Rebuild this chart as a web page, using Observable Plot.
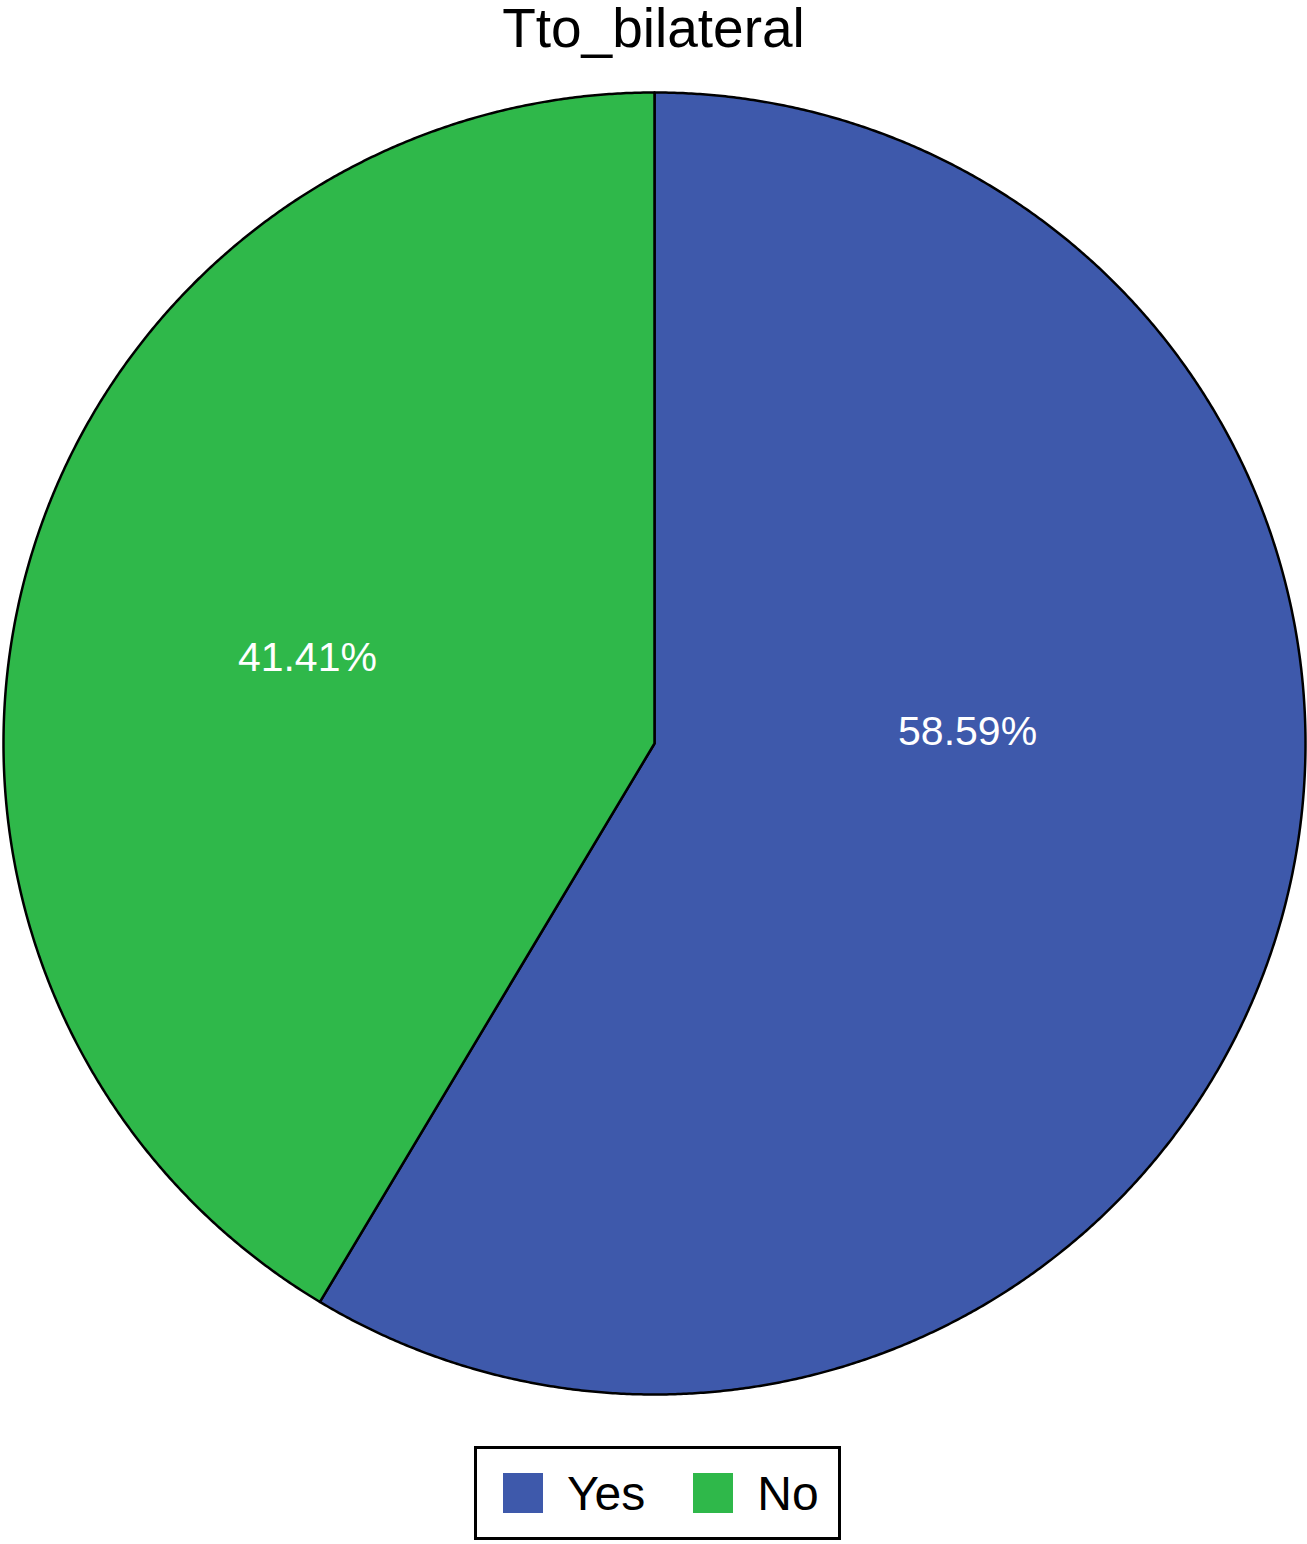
<!DOCTYPE html>
<html>
<head>
<meta charset="utf-8">
<script src="https://cdn.jsdelivr.net/npm/d3@7"></script>
<script src="https://cdn.jsdelivr.net/npm/@observablehq/plot@0.6"></script>
<style>
  html, body { margin: 0; padding: 0; background: #fff; }
  body { width: 1307px; height: 1544px; position: relative; overflow: hidden; font-family: "Liberation Sans", Arial, sans-serif; }
  #title { position: absolute; left: 0; top: 0; width: 1307px; text-align: center; font-size: 55px; line-height: 1.05; padding-top: 0; color: #000; }
  #chart { position: absolute; left: 0; top: 80px; }
  #legend { position: absolute; left: 474px; top: 1446px; width: 335px; height: 88px; border: 3px solid #000; display: flex; align-items: center; padding-left: 26px; box-sizing: content-box; }
  #legend > * { flex: none; white-space: nowrap; }
</style>
</head>
<body>
<div id="title">Tto_bilateral</div>
<div id="chart"></div>
<div id="legend"></div>
<script>
// ---- data ----
const categories = ["Yes", "No"];
const percents = [58.59, 41.41];
const colors = ["#3e59ab", "#2fb84a"];

// ---- layout ----
const W = 1307, H = 1340;
const cx = 654, cy = 663, R = 651;

const table = categories.map((c, i) => ({category: c, value: percents[i]}));
const pie = d3.pie().sort(null).value(d => d.value)(table);

// arc polygons in unit coordinates (angle measured clockwise from 12 o'clock)
const pts = [];
for (const a of pie) {
  const n = Math.max(4, Math.ceil((a.endAngle - a.startAngle) / (Math.PI / 720)));
  pts.push({category: a.data.category, x: 0, y: 0});
  for (let k = 0; k <= n; k++) {
    const t = a.startAngle + (a.endAngle - a.startAngle) * k / n;
    pts.push({category: a.data.category, x: Math.sin(t), y: Math.cos(t)});
  }
  pts.push({category: a.data.category, x: 0, y: 0});
}

// label positions at mid angle
const labelR = 0.55;
const labels = pie.map(a => {
  const m = (a.startAngle + a.endAngle) / 2;
  return {category: a.data.category, text: a.data.value.toFixed(2) + "%", x: labelR * Math.sin(m), y: labelR * Math.cos(m)};
});

const color = {domain: categories, range: colors};
const font = "Liberation Sans, Arial, sans-serif";

const chart = Plot.plot({
  width: W, height: H,
  margin: 0,
  x: {domain: [-1, 1], range: [cx - R, cx + R], axis: null},
  y: {domain: [-1, 1], range: [cy + R, cy - R], axis: null},
  color,
  style: {fontFamily: font, background: "white"},
  marks: [
    Plot.line(pts, {x: "x", y: "y", z: "category", fill: "category", stroke: "#000", strokeWidth: 2.5, strokeLinejoin: "round", curve: "linear"}),
    Plot.text(labels.filter(d => d.category === "Yes"), {x: "x", y: "y", text: "text", fill: "white", fontSize: 41, dx: -32, dy: -107, textAnchor: "middle", lineAnchor: "middle"}),
    Plot.text(labels.filter(d => d.category === "No"), {x: "x", y: "y", text: "text", fill: "white", fontSize: 41, dx: -2, dy: 10, textAnchor: "middle", lineAnchor: "middle"})
  ]
});
document.getElementById("chart").appendChild(chart);

const legend = Plot.legend({
  color,
  swatchSize: 40,
  style: {fontFamily: font, fontSize: "48px", color: "#000", margin: 0}
});
document.getElementById("legend").appendChild(legend);
</script>
</body>
</html>
